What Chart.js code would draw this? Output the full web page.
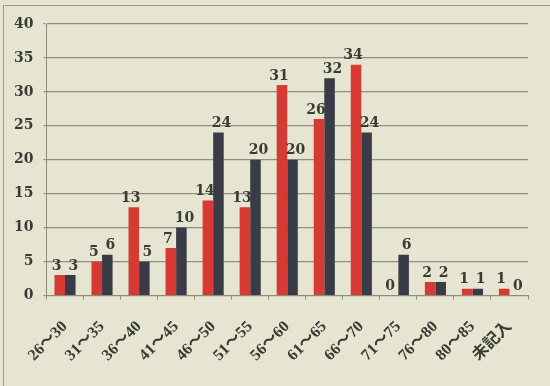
<!DOCTYPE html>
<html>
<head>
<meta charset="utf-8">
<script src="https://cdn.jsdelivr.net/npm/chart.js@4"></script>
<style>
  html, body { margin: 0; padding: 0; background: #e4e3d0; }
  #wrap { position: relative; width: 550px; height: 386px; background: #e6e5d2; }
  #frame { position: absolute; left: 3px; top: 5px; width: 560px; height: 400px; border-left: 1px solid #9a9a88; border-top: 1px solid #9a9a88; }
</style>
</head>
<body>
<div id="wrap">
  <div id="frame"></div>
  <canvas id="canvas" width="550" height="386"></canvas>
</div>
<script>
const labels = ["26～30", "31～35", "36～40", "41～45", "46～50", "51～55", "56～60", "61～65", "66～70", "71～75", "76～80", "80～85", "未記入"];
const red_values = [3, 5, 13, 7, 14, 13, 31, 26, 34, 0, 2, 1, 1];
const dark_values = [3, 6, 5, 10, 24, 20, 20, 32, 24, 6, 2, 1, 0];
const y_ticks = [0, 5, 10, 15, 20, 25, 30, 35, 40];

const font_family = "'DejaVu Serif', 'Liberation Serif', 'Noto Sans CJK JP', serif";
const label_family = "'Liberation Serif', 'Noto Sans CJK JP', serif";

// draws each bar's value above it
const value_labels = {
  id: "value_labels",
  afterDatasetsDraw: (chart) => {
    const ctx = chart.ctx;
    ctx.save();
    ctx.fillStyle = "#3a3a36";
    ctx.font = "bold 14px " + font_family;
    ctx.textBaseline = "bottom";
    chart.data.datasets.forEach((ds, i) => {
      const meta = chart.getDatasetMeta(i);
      meta.data.forEach((bar, j) => {
        const shift = i === 0 ? -3 : 3;
        ctx.textAlign = "center";
        ctx.fillText(ds.data[j], bar.x + shift, bar.y - 2);
      });
    });
    ctx.restore();
  }
};

const canvas = document.getElementById("canvas").getContext("2d");

const plot = new Chart(canvas, {
  type: "bar",
  data: {
    labels: labels,
    datasets: [
      {
        data: red_values,
        backgroundColor: "#d63a33",
        categoryPercentage: 0.57,
        barPercentage: 1.0
      },
      {
        data: dark_values,
        backgroundColor: "#393c47",
        categoryPercentage: 0.57,
        barPercentage: 1.0
      }
    ]
  },
  options: {
    responsive: false,
    animation: false,
    layout: { padding: { left: 4, right: 22, top: 24, bottom: 3 } },
    plugins: {
      legend: { display: false },
      tooltip: { enabled: false }
    },
    scales: {
      x: {
        grid: { drawOnChartArea: false, drawTicks: true, tickLength: 4, color: "#8c8c7c" },
        border: { display: true, color: "#8c8c7c" },
        ticks: {
          minRotation: 45,
          maxRotation: 45,
          padding: 18,
          color: "#3a3a36",
          font: { family: label_family, size: 16, weight: "bold" }
        }
      },
      y: {
        min: 0,
        max: 40,
        afterBuildTicks: (axis) => { axis.ticks = y_ticks.map(v => ({ value: v })); },
        grid: { color: "#8e9080", lineWidth: 1.2, drawTicks: true, tickLength: 3 },
        border: { display: true, color: "#8c8c7c" },
        ticks: {
          padding: 10,
          color: "#3a3a36",
          font: { family: font_family, size: 14, weight: "bold" }
        }
      }
    }
  },
  plugins: [value_labels]
});
</script>
</body>
</html>
